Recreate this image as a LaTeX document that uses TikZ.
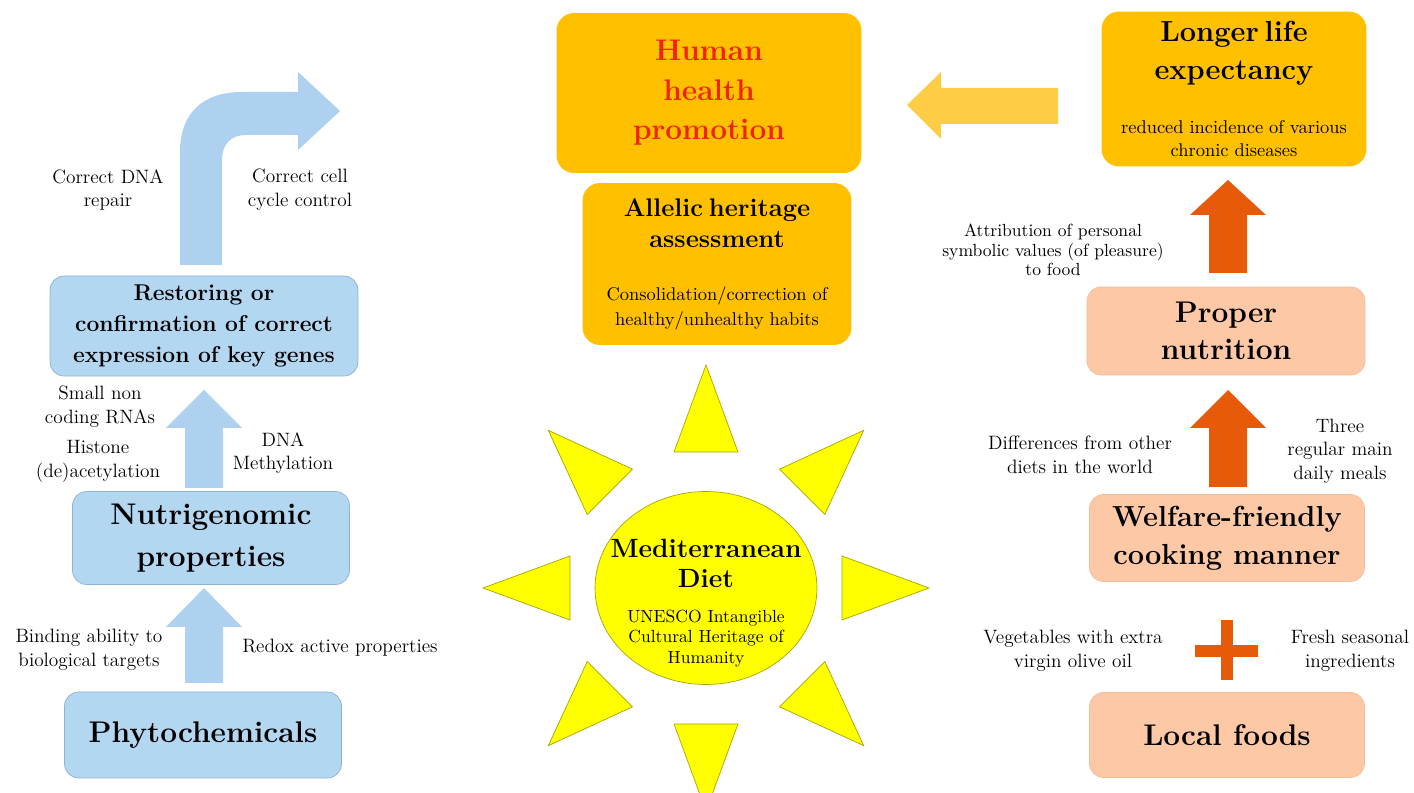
\documentclass[tikz,border=0pt]{standalone}
\usepackage{xcolor}
\usepackage{tikz}
\usetikzlibrary{positioning, shapes.geometric, calc}
\definecolor{skyfill}{HTML}{B3D6F1}
\definecolor{skyline}{HTML}{8AB2D8}
\definecolor{skyarrow}{HTML}{ADD1EE}
\definecolor{gold}{HTML}{FFC000}
\definecolor{goldarrow}{HTML}{FFCC45}
\definecolor{peach}{HTML}{FCC8A6}
\definecolor{peachline}{HTML}{F5BC98}
\definecolor{rust}{HTML}{E65A0A}
\definecolor{sunfill}{HTML}{FFFF00}
\definecolor{sunline}{HTML}{A6A600}
\definecolor{alert}{HTML}{F0240C}

\newcommand{\blockup}[5]{%
  \fill[#1] (#2-19,#3) -- (#2-19,#4) -- (#2-38,#4) -- (#2,#5)
    -- (#2+38,#4) -- (#2+19,#4) -- (#2+19,#3) -- cycle;}

\begin{document}
\begin{tikzpicture}[
  x=0.02cm, y=-0.02cm,
  skybox/.style={draw=skyline, fill=skyfill, rounded corners=8pt, align=center, inner sep=0pt},
  goldbox/.style={fill=gold, rounded corners=10pt, align=center, inner sep=0pt},
  peachbox/.style={draw=peachline, fill=peach, rounded corners=8pt, align=center, inner sep=0pt},
  head/.style={font=\bfseries\fontsize{17}{23}\selectfont},
  lbl/.style={align=center, font=\fontsize{11}{13.5}\selectfont, inner sep=1pt},
  ray/.style={draw=sunline, fill=sunfill, line width=0.4pt}
]
\useasboundingbox (0,0) rectangle (1414,793);
\fill[white] (0,0) rectangle (1414,793);

% left column
\node[skybox, minimum width=6.16cm, minimum height=2cm, font=\bfseries\fontsize{13}{17.5}\selectfont] (restore) at (204,326)
  {Restoring or\\ confirmation of correct\\ expression of key genes};
\node[skybox, head, minimum width=5.54cm, minimum height=1.86cm, font=\bfseries\fontsize{17}{24}\selectfont] (nutri) at (211,538)
  {Nutrigenomic\\ properties};
\node[skybox, head, minimum width=5.54cm, minimum height=1.72cm] (phyto) at (203,735) {Phytochemicals};

\fill[skyarrow] (180,265) -- (180,152) .. controls (180,112) and (204,92) .. (242,92)
  -- (298,92) -- (298,72) -- (340,111) -- (298,150) -- (298,135) -- (246,135)
  .. controls (231,135) and (222,144) .. (222,160) -- (222,265) -- cycle;
\blockup{skyarrow}{204}{488}{428}{390}
\blockup{skyarrow}{204}{683}{627}{588}

\node[lbl] (dnarep) at (108,190) {Correct DNA\\ repair};
\node[lbl] (cellcyc) at (300,190) {Correct cell\\ cycle control};
\node[lbl] (ncrna) at (100,407) {Small non\\ coding RNAs};
\node[lbl] (histone) at (98,461) {Histone\\ (de)acetylation};
\node[lbl] (dnameth) at (283,453) {DNA\\ Methylation};
\node[lbl] (binding) at (89,650) {Binding ability to\\ biological targets};
\node[lbl] (redox) at (340,648) {Redox active properties};

% centre
\node[goldbox, minimum width=6.1cm, minimum height=3.2cm, text=alert, font=\bfseries\fontsize{17}{22.5}\selectfont] (health) at (709,93)
  {Human\\ health\\ promotion};
\node[goldbox, minimum width=5.38cm, minimum height=3.24cm, text width=5.38cm] (allelic) at (717,264)
  {{\bfseries\fontsize{14.5}{18}\selectfont Allelic heritage\\ assessment\par}\vspace{16pt}%
   {\fontsize{10.5}{14}\selectfont Consolidation/correction\ of\\ healthy/unhealthy habits\par}};

\node[ellipse, draw=sunline, fill=sunfill, minimum width=4.44cm, minimum height=3.86cm] (sun) at (706,588) {};
\foreach \a in {0,45,...,315}
  \filldraw[ray, shift={(sun.center)}, rotate=\a] (136,-32) -- (223,0) -- (136,32) -- cycle;
\node[align=center, text width=4.3cm, inner sep=0pt] (medlbl) at (706,603)
  {{\bfseries\fontsize{15}{17}\selectfont Mediterranean\\ Diet\par}\vspace{8pt}%
   {\fontsize{10}{11.7}\selectfont UNESCO Intangible\\ Cultural Heritage of\\ Humanity\par}};

\fill[goldarrow] (1058,88) -- (941,88) -- (941,72) -- (907,105) -- (941,139) -- (941,124) -- (1058,124) -- cycle;

% right column
\node[goldbox, minimum width=5.3cm, minimum height=3.1cm, text width=5.3cm] (longer) at (1234,89)
  {{\bfseries\fontsize{16.5}{21.5}\selectfont Longer life\\ expectancy\par}\vspace{18pt}%
   {\fontsize{10.5}{13}\selectfont reduced incidence of various\\ chronic diseases\par}};
\node[peachbox, head, minimum width=5.56cm, minimum height=1.76cm, font=\bfseries\fontsize{17}{21}\selectfont] (proper) at (1226,331)
  {Proper\\ nutrition};
\node[peachbox, head, minimum width=5.5cm, minimum height=1.74cm, font=\bfseries\fontsize{16.5}{21.5}\selectfont] (welfare) at (1227,538)
  {Welfare-friendly\\ cooking manner};
\node[peachbox, head, minimum width=5.5cm, minimum height=1.7cm] (local) at (1227,735) {Local foods};

\blockup{rust}{1228}{273}{215}{180}
\blockup{rust}{1228}{487}{428}{390}
\fill[rust] (1195,645) rectangle (1258,657);
\fill[rust] (1221,620) rectangle (1233,680);

\node[lbl, font=\fontsize{10}{11}\selectfont] (attrib) at (1053,250)
  {Attribution of personal\\ symbolic values (of pleasure)\\ to food};
\node[lbl] (differ) at (1080,455) {Differences from other\\ diets in the world};
\node[lbl] (meals) at (1340,451) {Three\\ regular main\\ daily meals};
\node[lbl] (veg) at (1073,651) {Vegetables with extra\\ virgin olive oil};
\node[lbl] (fresh) at (1350,651) {Fresh seasonal\\ ingredients};
\end{tikzpicture}
\end{document}
